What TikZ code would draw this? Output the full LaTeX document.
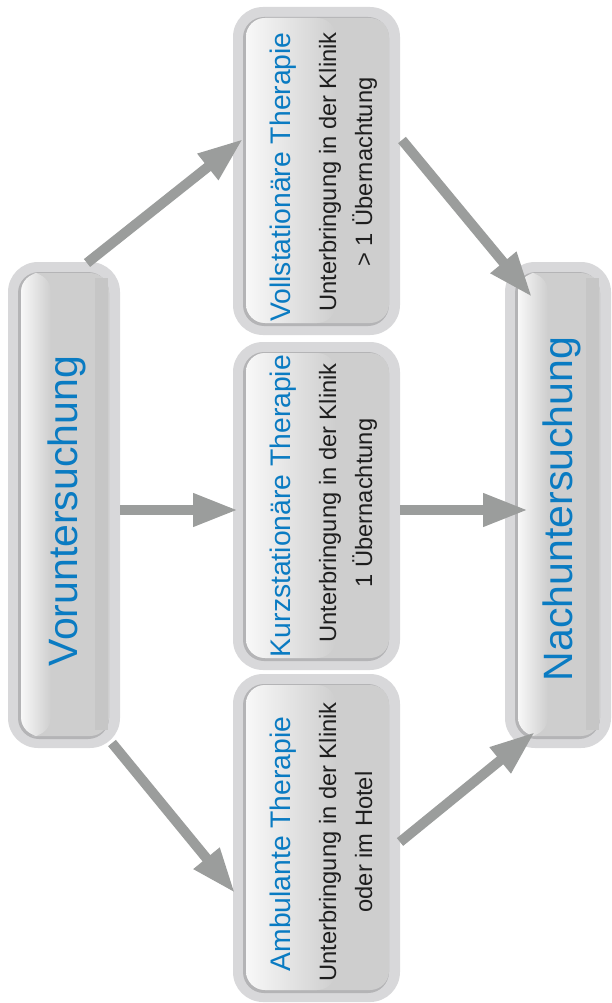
\documentclass[tikz,border=0pt]{standalone}
\usepackage{fontspec}
\setmainfont{Liberation Sans}
\usetikzlibrary{arrows.meta,calc}
\definecolor{blu}{HTML}{0A7BC2}
\definecolor{arr}{HTML}{9B9D9C}
\definecolor{rimL}{HTML}{D8D8DA}
\definecolor{rimD}{HTML}{B4B4B6}
\definecolor{fillM}{HTML}{CECECE}
\definecolor{hiL}{HTML}{F8F8F8}
\definecolor{strip}{HTML}{C6C6C6}
\definecolor{txt}{HTML}{1E1E1E}
\newcommand\glassbox[2]{%
  \fill[rimL, rounded corners=30pt] (#1.north west) rectangle (#1.south east);
  \fill[rimD, rounded corners=21pt] ($(#1.north west)+(10,10)$) rectangle ($(#1.south east)+(-11,-9)$);
  \fill[fillM, rounded corners=19pt] ($(#1.north west)+(13,11)$) rectangle ($(#1.south east)+(-11,-12)$);
  \shade[left color=hiL, right color=fillM, rounded corners=19pt] ($(#1.north west)+(13,11)$) rectangle ($(#1.south west)+(13+#2,-12)$);
}
\tikzset{
  boxshape/.style={rectangle, inner sep=0pt, outer sep=0pt},
  bigbox/.style={boxshape, minimum width=112pt, minimum height=486pt},
  smallbox/.style={boxshape, minimum width=167pt, minimum height=328pt},
  arrowline/.style={draw=arr, line width=10pt, -{Triangle[length=45pt,width=31pt]}},
  bigtext/.style={rotate=90, anchor=base, text=blu, font=\fontsize{41}{41}\selectfont, inner sep=0pt},
  titletext/.style={rotate=90, anchor=base, text=blu, font=\fontsize{28.3}{28}\selectfont, inner sep=0pt},
  bodytext/.style={rotate=90, anchor=base, text=txt, font=\fontsize{23.7}{23.5}\selectfont, inner sep=0pt}
}
\begin{document}
\begin{tikzpicture}[x=1pt,y=-1pt]
\useasboundingbox (0,0) rectangle (611,1003);
\node[bigbox] (vor) at (64,505) {};
\node[bigbox, minimum width=106pt] (nach) at (558,505) {};
\node[smallbox] (voll) at (316.5,171) {};
\node[smallbox] (kurz) at (316.5,506) {};
\node[smallbox] (amb) at (316.5,838) {};

\glassbox{vor}{30}
\fill[strip] ($(vor.north east)+(-25,16)$) rectangle ($(vor.south east)+(-12,-18)$);
\glassbox{nach}{30}
\fill[strip] ($(nach.north east)+(-25,16)$) rectangle ($(nach.south east)+(-12,-18)$);
\glassbox{voll}{90}
\glassbox{kurz}{90}
\glassbox{amb}{90}

\draw[arrowline] ($(vor.north)+(23,1)$) -- ($(voll.west)+(10,-32)$);
\draw[arrowline] ($(vor.east)+(0,5)$) -- ($(kurz.west)+(5,4)$);
\draw[arrowline] ($(vor.south east)+(-8,-5)$) -- ($(amb.west)+(2,55)$);
\draw[arrowline] ($(voll.east)+(2,-31)$) -- ($(nach.north west)+(27,35)$);
\draw[arrowline] ($(kurz.east)+(0,4)$) -- ($(nach.west)+(23,5)$);
\draw[arrowline] ($(amb.east)+(0,4)$) -- ($(nach.south west)+(30,-16)$);

\node[bigtext] (vort) at (77,511) {Voruntersuchung};
\node[bigtext] (nacht) at (572,509) {Nachuntersuchung};

\node[titletext] (vollt) at (290,177) {Vollstationäre Therapie};
\node[bodytext] (volla) at (336,172) {Unterbringung in der Klinik};
\node[bodytext] (vollb) at (372,172) {> 1 Übernachtung};

\node[titletext] (kurzt) at (290,506) {Kurzstationäre Therapie};
\node[bodytext] (kurza) at (336,503) {Unterbringung in der Klinik};
\node[bodytext] (kurzb) at (372,503) {1 Übernachtung};

\node[titletext] (ambt) at (290,844) {Ambulante Therapie};
\node[bodytext] (amba) at (336,842) {Unterbringung in der Klinik};
\node[bodytext] (ambb) at (372,842) {oder im Hotel};
\end{tikzpicture}
\end{document}
